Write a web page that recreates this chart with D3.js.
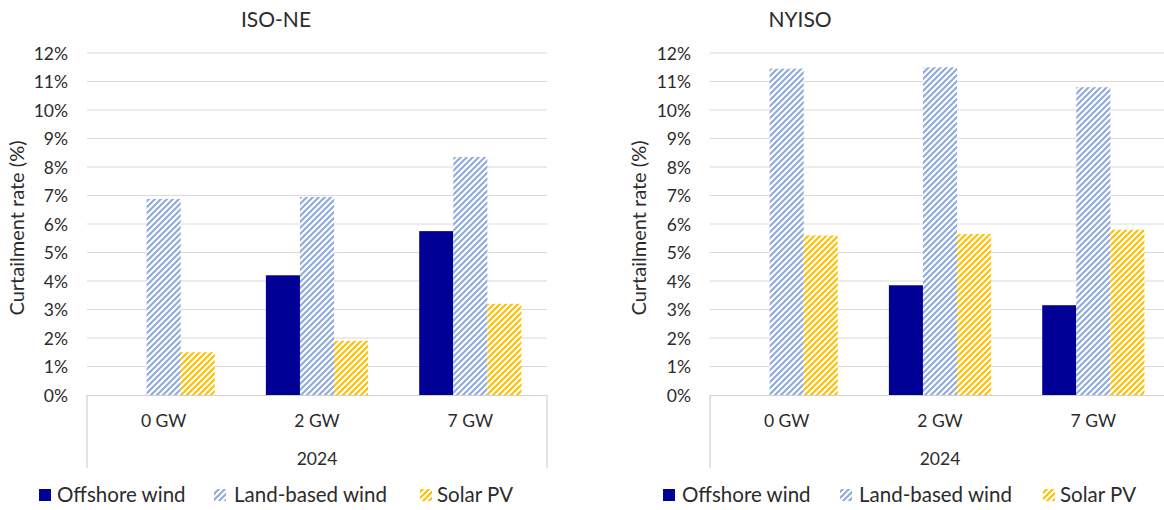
<!DOCTYPE html>
<html><head><meta charset="utf-8">
<script src="https://cdn.jsdelivr.net/npm/d3@7"></script>
<style>
body{margin:0;background:#fff}
svg{display:block}
text{font-family:Lato,"Open Sans",sans-serif;fill:#2b2b2b}
</style>
</head><body>
<svg id="chart" width="1164" height="510"></svg>
<script>
// ---- data ----
const categories = ["0 GW", "2 GW", "7 GW"];
const groupLabel = "2024";
const seriesNames = ["Offshore wind", "Land-based wind", "Solar PV"];
const isoneOffshore = [0, 4.2, 5.75];
const isoneLand = [6.88, 6.95, 8.35];
const isoneSolar = [1.5, 1.9, 3.2];
const nyisoOffshore = [0, 3.85, 3.15];
const nyisoLand = [11.45, 11.5, 10.8];
const nyisoSolar = [5.6, 5.65, 5.8];
const yTickValues = [0,1,2,3,4,5,6,7,8,9,10,11,12];
const yTitle = "Curtailment rate (%)";

const svg = d3.select("#chart");
const defs = svg.append("defs");
function hatch(id, color){
  const p = defs.append("pattern").attr("id", id).attr("patternUnits","userSpaceOnUse")
    .attr("width",6).attr("height",6);
  p.append("rect").attr("width",6).attr("height",6).attr("fill","#fff");
  p.append("path").attr("d","M-1,1 L1,-1 M0,6 L6,0 M5,7 L7,5")
    .attr("stroke",color).attr("stroke-width",2.1);
}
hatch("hBlue","#8FAADC");
hatch("hGold","#FFC000");
const fills = ["#000096","url(#hBlue)","url(#hGold)"];

const panels = [
  {title:"ISO-NE", titleX:276, left:87, right:547, yTitleX:24,
   data:[isoneOffshore, isoneLand, isoneSolar],
   legend:[{sq:39, tx:57}, {sq:214, tx:234}, {sq:420, tx:437}]},
  {title:"NYISO", titleX:800, left:710, right:1170, yTitleX:646,
   data:[nyisoOffshore, nyisoLand, nyisoSolar],
   legend:[{sq:663, tx:682}, {sq:840, tx:859}, {sq:1043, tx:1060}]}
];

const y = d3.scaleLinear().domain([0,12]).range([395,53]);

panels.forEach(P => {
  const g = svg.append("g");
  const x0 = d3.scaleBand().domain(categories).range([P.left, P.right]).padding(0);
  const x1 = d3.scaleBand().domain(seriesNames).range([0, x0.bandwidth()]).paddingInner(0).paddingOuter(0.75);

  // title
  g.append("text").attr("x", P.titleX).attr("y", 27).attr("text-anchor","middle")
    .style("font-size","21px").text(P.title);

  // gridlines
  g.selectAll(".grid").data(yTickValues.filter(d=>d>0)).join("line")
    .attr("x1", P.left).attr("x2", P.right)
    .attr("y1", d=>y(d)).attr("y2", d=>y(d))
    .attr("stroke","#d9d9d9").attr("stroke-width",1);

  // y axis labels
  const yAxis = d3.axisLeft(y).tickValues(yTickValues).tickSize(0).tickPadding(0)
    .tickFormat(d => d + "%");
  const ya = g.append("g").attr("transform", `translate(${P.left-19},0)`).call(yAxis);
  ya.select(".domain").remove();
  ya.selectAll("text").style("font-size","17.5px").style("font-family","Lato,'Open Sans',sans-serif").attr("fill","#2b2b2b").attr("dy","0.35em");

  // y title
  g.append("text").attr("transform", `translate(${P.yTitleX},228) rotate(-90)`)
    .attr("text-anchor","middle").style("font-size","20px").text(yTitle);

  // bars
  seriesNames.forEach((s, si) => {
    g.append("g").selectAll("rect").data(categories.map((c,ci)=>({c, v:P.data[si][ci]})))
      .join("rect")
      .attr("x", d => x0(d.c) + x1(s))
      .attr("width", x1.bandwidth())
      .attr("y", d => y(d.v))
      .attr("height", d => y(0) - y(d.v))
      .attr("fill", fills[si]);
  });

  // category axis
  const xAxis = d3.axisBottom(x0).tickSize(0).tickPadding(0);
  const xa = g.append("g").attr("transform", `translate(0,395)`).call(xAxis);
  xa.select(".domain").remove();
  xa.selectAll("text").style("font-size","17.5px").style("font-family","Lato,'Open Sans',sans-serif").attr("fill","#2b2b2b").attr("y",32).attr("dy",0);
  g.append("line").attr("x1",P.left).attr("x2",P.right).attr("y1",395.5).attr("y2",395.5)
    .attr("stroke","#d0d0d0").attr("stroke-width",1.2);
  [P.left, P.right].forEach(xx => g.append("line").attr("x1",xx).attr("x2",xx)
    .attr("y1",395).attr("y2",468).attr("stroke","#d0d0d0").attr("stroke-width",1.2));
  g.append("text").attr("x",(P.left+P.right)/2).attr("y",465).attr("text-anchor","middle")
    .style("font-size","17.5px").text(groupLabel);

  // legend
  seriesNames.forEach((s, si) => {
    const L = P.legend[si];
    g.append("rect").attr("x",L.sq).attr("y",489).attr("width",12).attr("height",12).attr("fill",fills[si]);
    g.append("text").attr("x",L.tx).attr("y",502).style("font-size","20.5px").text(s);
  });
});
</script>
</body></html>
